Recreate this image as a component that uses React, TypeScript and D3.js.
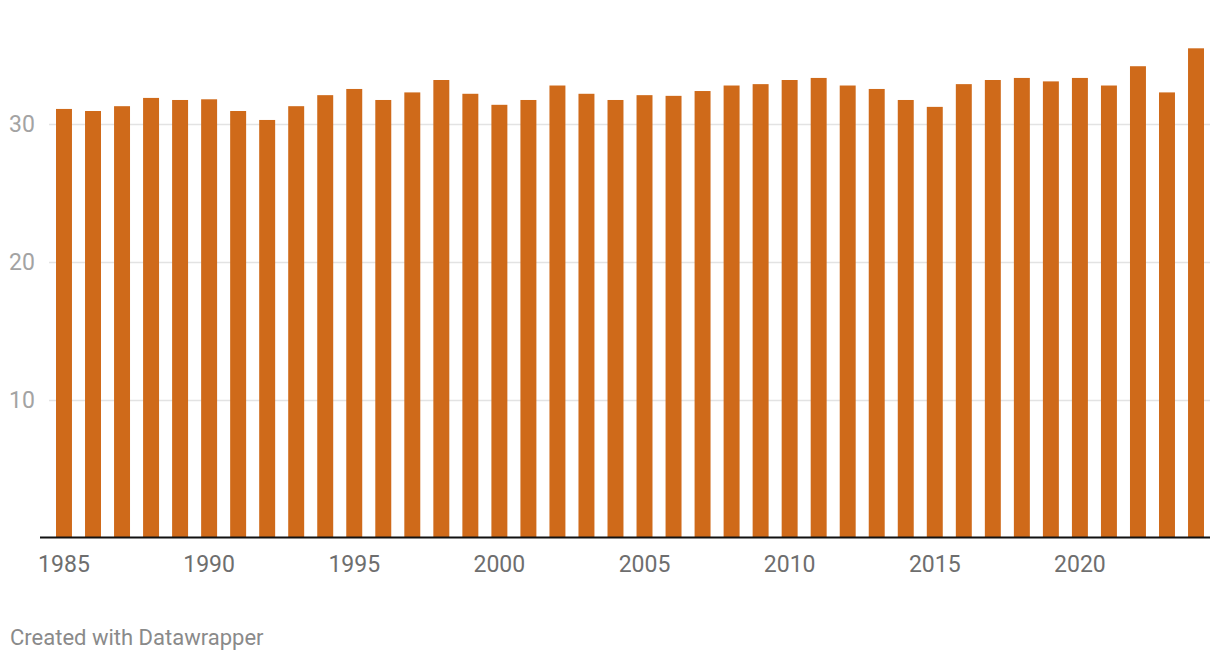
import React, { useEffect, useRef } from "react";
import * as d3 from "d3";

const years: number[] = d3.range(1985, 2025);
const values: number[] = [
  31.1, 30.95, 31.3, 31.9, 31.75, 31.8, 30.95, 30.3, 31.3, 32.1,
  32.55, 31.75, 32.3, 33.2, 32.2, 31.4, 31.75, 32.8, 32.2, 31.75,
  32.1, 32.05, 32.4, 32.8, 32.9, 33.2, 33.35, 32.8, 32.55, 31.75,
  31.25, 32.9, 33.2, 33.35, 33.1, 33.35, 32.8, 34.2, 32.3, 35.5,
];
const yTicks: number[] = [10, 20, 30];
const xTickYears: number[] = [1985, 1990, 1995, 2000, 2005, 2010, 2015, 2020];
const footer = "Created with Datawrapper";

const W = 1220;
const H = 660;
const BAR_COLOR = "#cf6a1a";
const FONT = "Roboto, 'Noto Sans', sans-serif";

export default function App() {
  const ref = useRef<SVGSVGElement | null>(null);

  useEffect(() => {
    const svg = d3.select(ref.current);
    svg.selectAll("*").remove();

    const x = d3
      .scaleBand<number>()
      .domain(years)
      .range([56, 1204])
      .paddingInner(0.45)
      .paddingOuter(0);

    const y = d3.scaleLinear().domain([0, 36]).range([537.5, 537.5 - 36 * 13.78]);

    const grid = svg.append("g");
    grid
      .selectAll("line")
      .data(yTicks)
      .join("line")
      .attr("x1", 49)
      .attr("x2", 1210)
      .attr("y1", (d) => Math.round(y(d)) + 0.5)
      .attr("y2", (d) => Math.round(y(d)) + 0.5)
      .attr("stroke", "#e3e3e3")
      .attr("stroke-width", 1.5);

    svg
      .append("g")
      .selectAll("text")
      .data(yTicks)
      .join("text")
      .attr("x", 9)
      .attr("y", (d) => y(d))
      .attr("dy", "0.35em")
      .attr("font-family", FONT)
      .attr("font-size", 23)
      .attr("fill", "#a3a3a3")
      .text((d) => String(d));

    svg
      .append("g")
      .selectAll("rect")
      .data(years)
      .join("rect")
      .attr("x", (d) => x(d) as number)
      .attr("width", x.bandwidth())
      .attr("y", (d, i) => y(values[i]))
      .attr("height", (d, i) => y(0) - y(values[i]))
      .attr("fill", BAR_COLOR);

    svg
      .append("line")
      .attr("x1", 40)
      .attr("x2", 1210)
      .attr("y1", y(0))
      .attr("y2", y(0))
      .attr("stroke", "#111")
      .attr("stroke-width", 2);

    svg
      .append("g")
      .selectAll("text")
      .data(xTickYears)
      .join("text")
      .attr("x", (d) => (x(d) as number) + x.bandwidth() / 2)
      .attr("y", 572)
      .attr("text-anchor", "middle")
      .attr("font-family", FONT)
      .attr("font-size", 23)
      .attr("fill", "#6e6e6e")
      .text((d) => String(d));

    svg
      .append("text")
      .attr("x", 10)
      .attr("y", 645)
      .attr("font-family", FONT)
      .attr("font-size", 22)
      .attr("fill", "#8a8a8a")
      .text(footer);
  }, []);

  return (
    <svg
      ref={ref}
      width={W}
      height={H}
      style={{ position: "absolute", top: 0, left: 0, background: "#fff" }}
    />
  );
}
